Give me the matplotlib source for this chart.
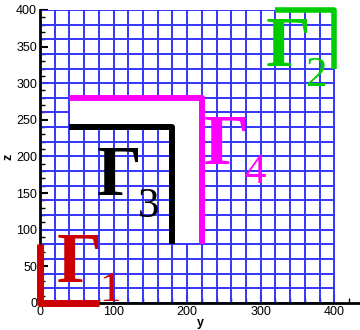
import numpy as np
import matplotlib
matplotlib.use("Agg")
import matplotlib.pyplot as plt
from matplotlib.collections import LineCollection

# mesh nodes
grid_y = np.arange(0, 401, 20)
grid_z = np.arange(0, 401, 20)

# boundary curves (y, z)
gamma1_y = [0, 0, 80]
gamma1_z = [80, 0, 0]
gamma2_y = [320, 400, 400]
gamma2_z = [400, 400, 320]
gamma3_y = [40, 180, 180]
gamma3_z = [240, 240, 80]
gamma4_y = [40, 220, 220]
gamma4_z = [280, 280, 80]

labels = ["1", "2", "3", "4"]
label_colors = ["#cc0000", "#00cc00", "#000000", "#ff00ff"]
label_gamma_pos = [(23, 29), (307, 324), (77, 147), (223, 190)]
label_sub_pos = [(81, 3), (361, 296), (133, 117), (278, 164)]

fig = plt.figure(figsize=(3.6, 3.3), dpi=100)
ax = fig.add_axes([0.111, 0.082, 0.889, 0.888])


def in_hole(yc, zc):
    return ((40 < yc < 220) and (240 < zc < 280)) or ((180 < yc < 220) and (80 < zc < 240))


def cell_ok(i, j):
    if i < 0 or j < 0 or i >= len(grid_y) - 1 or j >= len(grid_z) - 1:
        return False
    yc = (grid_y[i] + grid_y[i + 1]) / 2
    zc = (grid_z[j] + grid_z[j + 1]) / 2
    return not in_hole(yc, zc)


segs = []
for i in range(len(grid_y)):
    for j in range(len(grid_z) - 1):
        if cell_ok(i - 1, j) or cell_ok(i, j):
            segs.append([(grid_y[i], grid_z[j]), (grid_y[i], grid_z[j + 1])])
for j in range(len(grid_z)):
    for i in range(len(grid_y) - 1):
        if cell_ok(i, j - 1) or cell_ok(i, j):
            segs.append([(grid_y[i], grid_z[j]), (grid_y[i + 1], grid_z[j])])
lc = LineCollection(segs, colors="#3535ff", linewidths=1.4, capstyle="projecting")
ax.add_collection(lc)

ax.plot(gamma1_y, gamma1_z, color=label_colors[0], lw=5.0, solid_capstyle="butt", clip_on=False, zorder=5)
ax.plot(gamma2_y, gamma2_z, color=label_colors[1], lw=4.0, solid_capstyle="butt", clip_on=False, zorder=5)
ax.plot(gamma3_y, gamma3_z, color=label_colors[2], lw=4.3, solid_capstyle="butt", clip_on=False, zorder=5)
ax.plot(gamma4_y, gamma4_z, color=label_colors[3], lw=4.3, solid_capstyle="butt", clip_on=False, zorder=5)

for lab, col, gp, sp in zip(labels, label_colors, label_gamma_pos, label_sub_pos):
    ax.text(gp[0], gp[1], "Γ", color=col, fontsize=51, family="Liberation Serif",
            fontweight="bold", ha="left", va="baseline", zorder=6)
    ax.text(sp[0], sp[1], lab, color=col, fontsize=31, family="Liberation Serif",
            ha="left", va="baseline", zorder=6)

ax.set_xlim(0, 435)
ax.set_ylim(0, 400)
ax.set_xticks([0, 100, 200, 300, 400])
ax.set_xticks(np.arange(0, 435, 20), minor=True)
ax.set_yticks([0, 50, 100, 150, 200, 250, 300, 350, 400])
ax.set_yticks(np.arange(0, 401, 10), minor=True)
ax.tick_params(direction="in", labelsize=9, length=6, width=1.5, pad=2)
ax.tick_params(which="minor", direction="in", length=3.5, width=1)
for lbl in ax.get_xticklabels() + ax.get_yticklabels():
    lbl.set_family("Liberation Sans")
for s in ["top", "right"]:
    ax.spines[s].set_visible(False)
ax.spines["bottom"].set_linewidth(2)
ax.spines["left"].set_linewidth(2)
ax.spines["left"].set_bounds(0, 400)
fig.text(200 / 360, 0.002, "y", fontsize=9, fontweight="bold", family="Liberation Sans",
         ha="center", va="bottom")
fig.text(8 / 360, 1 - 157 / 330, "z", fontsize=9, fontweight="bold", family="Liberation Sans",
         ha="center", va="center", rotation=90)

fig.savefig("out.png", dpi=100)
